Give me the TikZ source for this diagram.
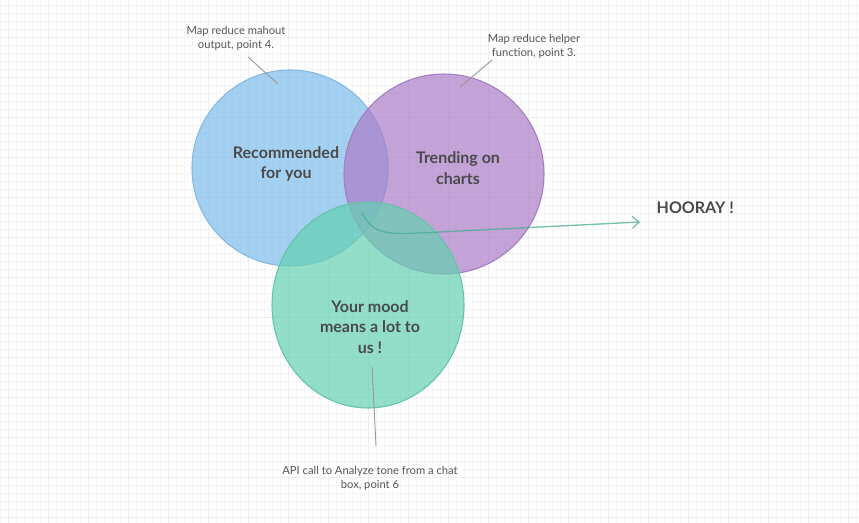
\documentclass[tikz,border=0pt]{standalone}
\usepackage{fontspec}
\setmainfont{Lato}
\usepackage{xcolor}
\usepackage{tikz}
\usetikzlibrary{arrows.meta,shapes.geometric,positioning}

\definecolor{recfill}{HTML}{7EBCEC}
\definecolor{recline}{HTML}{84B8E2}
\definecolor{trendfill}{HTML}{AB7CC9}
\definecolor{trendline}{HTML}{A47DBE}
\definecolor{moodfill}{HTML}{65D0B2}
\definecolor{moodline}{HTML}{62C4A8}
\definecolor{txtdark}{HTML}{4A4A4A}
\definecolor{txtnote}{HTML}{555555}
\definecolor{arrowcol}{HTML}{47AE92}

\begin{document}
\begin{tikzpicture}[
    x=0.75pt, y=-0.75pt,
    set/.style={circle, draw, line width=0.8pt, fill opacity=0.7, inner sep=0pt},
    rec/.style={set, fill=recfill, draw=recline, minimum size=147pt},
    trend/.style={set, fill=trendfill, draw=trendline, minimum size=150pt},
    mood/.style={set, ellipse, fill=moodfill, draw=moodline, minimum width=144pt, minimum height=154.5pt},
    title/.style={text=txtdark, font=\fontsize{12}{15.5}\selectfont\bfseries, align=center},
    note/.style={text=txtnote, font=\fontsize{8.4}{10.5}\selectfont, align=center},
    pointer/.style={draw=gray!80, line width=0.7pt}
  ]
    \useasboundingbox (0,0) rectangle (859,523);
    % Grid
    \foreach \gx in {0.7,8.7,...,859} \draw[black!4, line width=0.5pt] (\gx,0) -- (\gx,523);
    \foreach \gy in {5,13,...,523} \draw[black!4, line width=0.5pt] (0,\gy) -- (859,\gy);
    \foreach \gx in {8.7,48.7,...,859} \draw[black!7, line width=0.5pt] (\gx,0) -- (\gx,523);
    \foreach \gy in {37,77,...,523} \draw[black!7, line width=0.5pt] (0,\gy) -- (859,\gy);

    % Circles
    \node[rec] (recset) at (290,168) {};
    \node[trend] (trendset) at (444,174) {};
    \node[mood] (moodset) at (368,305) {};

    % Titles
    \node[title] (rectitle) at (286,164) {Recommended\\for you};
    \node[title] (trendtitle) at (458,168) {Trending on\\charts};
    \node[title] (moodtitle) at (370,327) {Your mood\\means a lot to\\us !};
    \node[title, anchor=west] (hooray) at (652,208) {HOORAY !};

    % Notes
    \node[note] (recnote) at (236,38) {Map reduce mahout\\output, point 4.};
    \node[note] (trendnote) at (534,46) {Map reduce helper\\function, point 3.};
    \node[note] (moodnote) at (370,478) {API call to Analyze tone from a chat\\box, point 6};

    \coordinate (recpin) at (278,84);
    \coordinate (recfoot) at (248,57);
    \coordinate (trendpin) at (460,87);
    \coordinate (trendfoot) at (492,60);
    \coordinate (moodpin) at (372,367);
    \coordinate (moodfoot) at (376,446);
    \draw[pointer] (recfoot) -- (recpin);
    \draw[pointer] (trendfoot) -- (trendpin);
    \draw[pointer] (moodpin) -- (moodfoot);

    % Arrow
    \coordinate (arrowstart) at (362,212);
    \coordinate (arrowtip) at (640,222);
    \draw[arrowcol, line width=1pt, draw opacity=0.75, -{Straight Barb[length=5pt, width=9pt]}]
      (arrowstart) .. controls (372,236) and (392,234) .. (420,233) -- (arrowtip);
  \end{tikzpicture}
\end{document}
